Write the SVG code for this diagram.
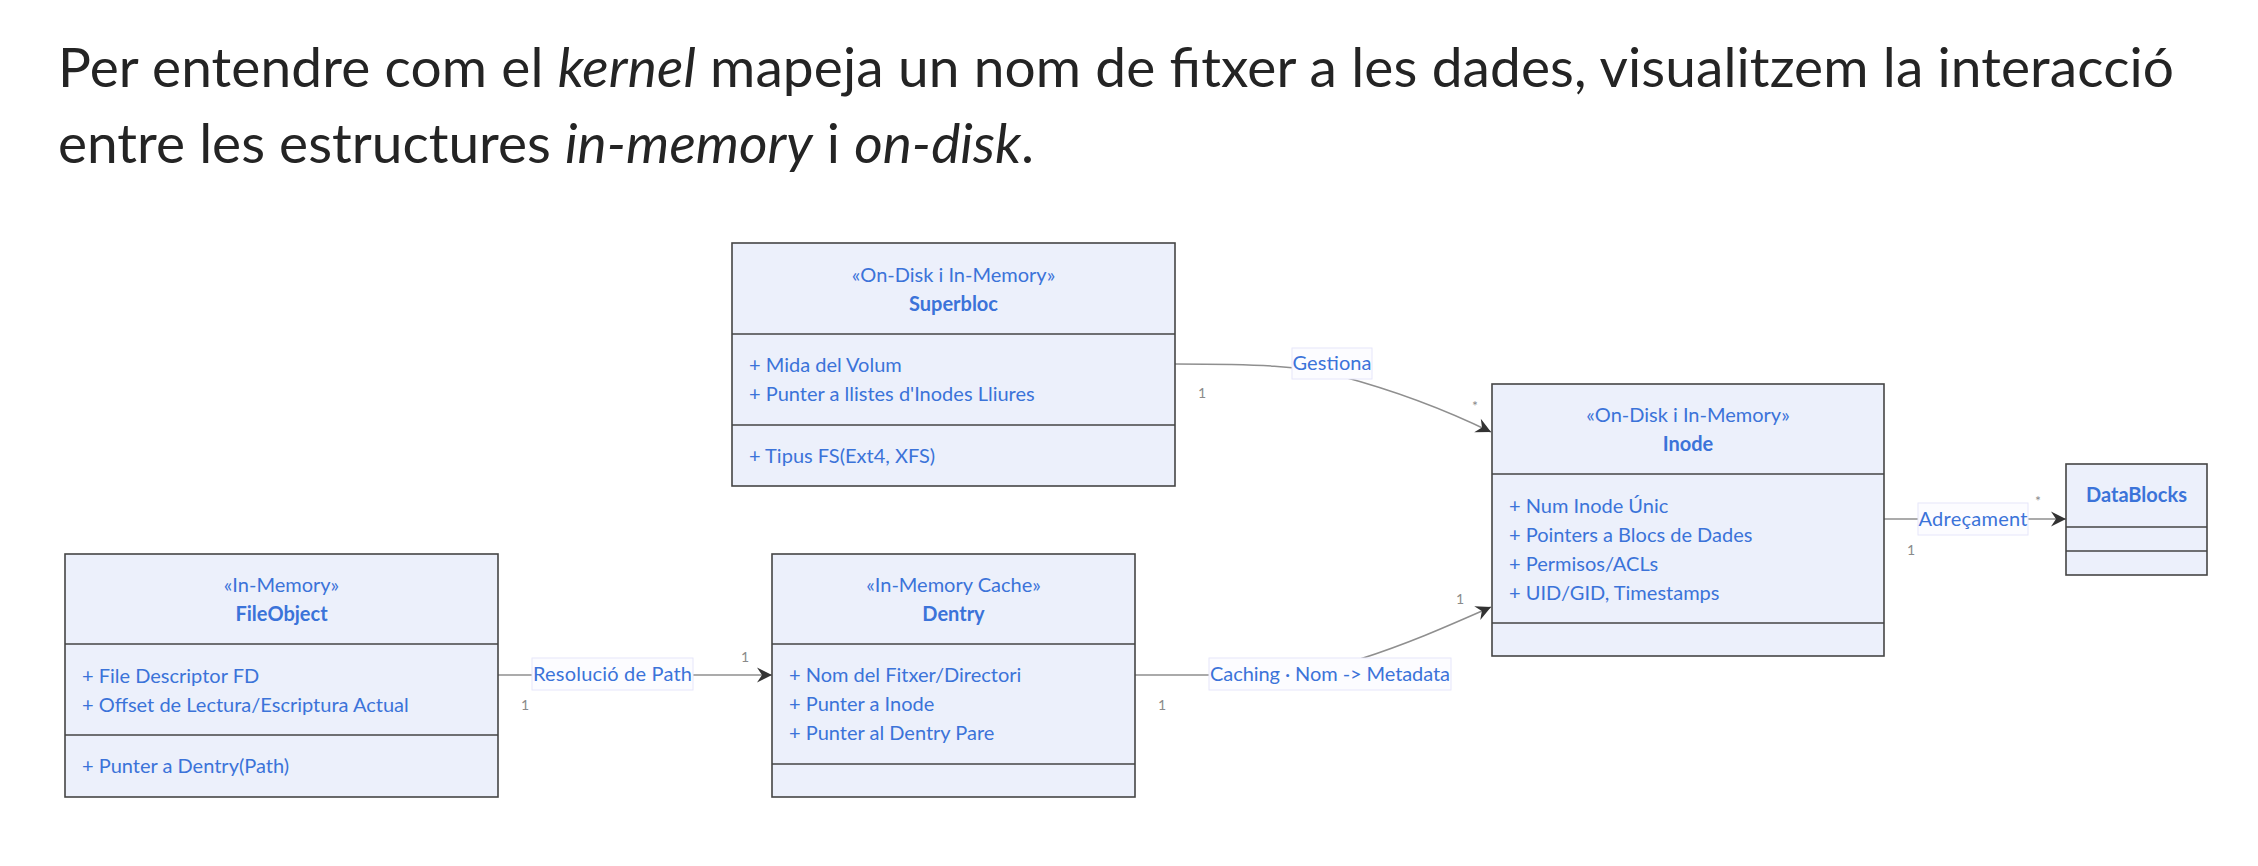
<svg xmlns="http://www.w3.org/2000/svg" width="2258" height="866" viewBox="0 0 2258 866">
<style>
.title{font-family:Lato,"Noto Sans",sans-serif;font-size:55px;fill:#242424}
.box{fill:#ECF0FB;stroke:#454545;stroke-width:1.6}
.div{stroke:#454545;stroke-width:1.6}
.st{font-family:Lato,"Noto Sans",sans-serif;font-size:20px;fill:#3B73D9;text-anchor:middle}
.nm{font-family:Lato,"Noto Sans",sans-serif;font-size:20px;font-weight:bold;fill:#3B73D9;text-anchor:middle}
.at{font-family:Lato,"Noto Sans",sans-serif;font-size:20px;fill:#3B73D9}
.edge{fill:none;stroke:#8f8f8f;stroke-width:1.5}
.lbg{fill:#fcfcff;stroke:#e6e6fa;stroke-width:1}
.lbl{font-family:Lato,"Noto Sans",sans-serif;font-size:20px;fill:#3B73D9;text-anchor:middle}
.card{font-family:Lato,"Noto Sans",sans-serif;font-size:14px;fill:#8a8a8a;text-anchor:middle}
</style>
<defs>
<marker id="arr" viewBox="-16 -9 17 18" refX="0" refY="0" markerWidth="17" markerHeight="18" markerUnits="userSpaceOnUse" orient="auto">
<path d="M0,0 L-15,-7.5 L-10,0 L-15,7.5 Z" fill="#333"/>
</marker>
</defs>
<rect width="2258" height="866" fill="#fff"/>
<g id="title">
<text class="title" x="58" y="87" textLength="2116" lengthAdjust="spacing">Per entendre com el <tspan font-style="italic">kernel</tspan> mapeja un nom de fitxer a les dades, visualitzem la interacció</text>
<text class="title" x="58" y="163" textLength="976" lengthAdjust="spacing">entre les estructures <tspan font-style="italic">in-memory</tspan> i <tspan font-style="italic">on-disk</tspan>.</text>
</g>
<g id="edges">
<g id="e-fileobject-dentry">
<path class="edge" d="M498,675 L772,675" marker-end="url(#arr)"/>
<rect class="lbg" x="532" y="658" width="161" height="32"/>
<text class="lbl" x="612.5" y="681" textLength="159" lengthAdjust="spacing">Resolució de Path</text>
<text class="card" x="525" y="710">1</text>
<text class="card" x="745" y="662">1</text>
</g>
<g id="e-dentry-inode">
<path class="edge" d="M1135,675 L1230,675 C1300,675 1330,668 1360,659 C1410,643 1450,625 1491,607" marker-end="url(#arr)"/>
<rect class="lbg" x="1209" y="658" width="242" height="32"/>
<text class="lbl" x="1330" y="681" textLength="240" lengthAdjust="spacing">Caching · Nom -&gt; Metadata</text>
<text class="card" x="1162" y="710">1</text>
<text class="card" x="1460" y="604">1</text>
</g>
<g id="e-superbloc-inode">
<path class="edge" d="M1175,364 C1260,364 1300,366 1340,376 C1400,392 1450,412 1491,432" marker-end="url(#arr)"/>
<rect class="lbg" x="1292" y="348" width="80" height="31"/>
<text class="lbl" x="1332" y="370" textLength="79" lengthAdjust="spacing">Gestiona</text>
<text class="card" x="1202" y="398">1</text>
<text class="card" x="1475" y="411">*</text>
</g>
<g id="e-inode-datablocks">
<path class="edge" d="M1884,519 L2066,519" marker-end="url(#arr)"/>
<rect class="lbg" x="1918" y="503" width="110" height="32"/>
<text class="lbl" x="1973" y="526" textLength="109" lengthAdjust="spacing">Adreçament</text>
<text class="card" x="1911" y="555">1</text>
<text class="card" x="2038" y="506">*</text>
</g>
</g>
<g id="superbloc">
<rect class="box" x="732" y="243" width="443" height="243"/>
<line class="div" x1="732" y1="334" x2="1175" y2="334"/>
<line class="div" x1="732" y1="425" x2="1175" y2="425"/>
<text class="st" x="953.5" y="282">«On-Disk i In-Memory»</text>
<text class="nm" x="953.5" y="311">Superbloc</text>
<text class="at" x="749" y="372">+ Mida del Volum</text>
<text class="at" x="749" y="401">+ Punter a llistes d'Inodes Lliures</text>
<text class="at" x="749" y="463">+ Tipus FS(Ext4, XFS)</text>
</g>
<g id="fileobject">
<rect class="box" x="65" y="554" width="433" height="243"/>
<line class="div" x1="65" y1="644" x2="498" y2="644"/>
<line class="div" x1="65" y1="735" x2="498" y2="735"/>
<text class="st" x="281.5" y="592">«In-Memory»</text>
<text class="nm" x="281.5" y="621">FileObject</text>
<text class="at" x="82" y="683">+ File Descriptor FD</text>
<text class="at" x="82" y="712">+ Offset de Lectura/Escriptura Actual</text>
<text class="at" x="82" y="773">+ Punter a Dentry(Path)</text>
</g>
<g id="dentry">
<rect class="box" x="772" y="554" width="363" height="243"/>
<line class="div" x1="772" y1="644" x2="1135" y2="644"/>
<line class="div" x1="772" y1="764" x2="1135" y2="764"/>
<text class="st" x="953.5" y="592">«In-Memory Cache»</text>
<text class="nm" x="953.5" y="621">Dentry</text>
<text class="at" x="789" y="682">+ Nom del Fitxer/Directori</text>
<text class="at" x="789" y="711">+ Punter a Inode</text>
<text class="at" x="789" y="740">+ Punter al Dentry Pare</text>
</g>
<g id="inode">
<rect class="box" x="1492" y="384" width="392" height="272"/>
<line class="div" x1="1492" y1="474" x2="1884" y2="474"/>
<line class="div" x1="1492" y1="623" x2="1884" y2="623"/>
<text class="st" x="1688" y="422">«On-Disk i In-Memory»</text>
<text class="nm" x="1688" y="451">Inode</text>
<text class="at" x="1509" y="513">+ Num Inode Únic</text>
<text class="at" x="1509" y="542">+ Pointers a Blocs de Dades</text>
<text class="at" x="1509" y="571">+ Permisos/ACLs</text>
<text class="at" x="1509" y="600">+ UID/GID, Timestamps</text>
</g>
<g id="datablocks">
<rect class="box" x="2066" y="464" width="141" height="111"/>
<line class="div" x1="2066" y1="527" x2="2207" y2="527"/>
<line class="div" x1="2066" y1="551" x2="2207" y2="551"/>
<text class="nm" x="2136.5" y="502">DataBlocks</text>
</g>
</svg>
